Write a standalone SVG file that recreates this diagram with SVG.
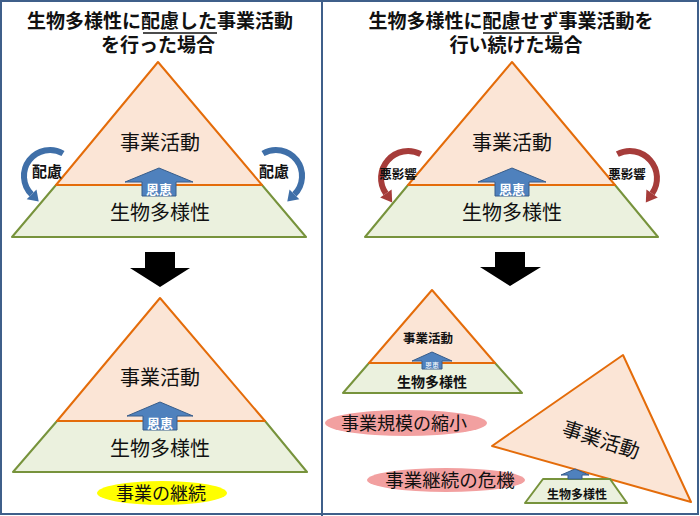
<svg xmlns="http://www.w3.org/2000/svg" width="700" height="516" viewBox="0 0 700 516">
<defs>
<style>
.t{font-family:"Noto Sans CJK JP","Noto Sans CJK SC",sans-serif;text-anchor:middle}
.title{font-size:19px;font-weight:bold;fill:#111}
.big{font-size:20px;fill:#111}
.up{fill:#fbe5d6;stroke:#e46c0a;stroke-width:2;stroke-linejoin:round}
.low{fill:#ebf1de;stroke:#77933c;stroke-width:2;stroke-linejoin:round}
.ben{fill:#4f81bd;stroke:#385d8a;stroke-width:1}
.bent{font-size:13px;font-weight:bold;fill:#fff}
.barc{fill:none;stroke:#3f6fa8;stroke-width:6}
.bhead{fill:#3f6fa8}
.rarc{fill:none;stroke:#a63c3a;stroke-width:6}
.rhead{fill:#a63c3a}
.lab{font-size:15px;font-weight:bold;fill:#111}
.labs{font-size:12.5px;font-weight:bold;fill:#111}
.pink{fill:#f2a0a0}
</style>
</defs>
<rect x="0" y="0" width="700" height="516" fill="#fff"/>
<rect x="1" y="1" width="697" height="513" fill="none" stroke="#3f5f8a" stroke-width="2"/>
<line x1="322" y1="0" x2="322" y2="516" stroke="#3f5f8a" stroke-width="2"/>

<g id="title-left">
<text class="t title" x="160" y="28">生物多様性に配慮した事業活動</text>
<text class="t title" x="158" y="52">を行った場合</text>
<line x1="143" y1="33" x2="217" y2="33" stroke="#111" stroke-width="1.5"/>
</g>
<g id="title-right">
<text class="t title" x="511" y="28">生物多様性に配慮せず事業活動を</text>
<text class="t title" x="516" y="52">行い続けた場合</text>
<line x1="483" y1="33" x2="559" y2="33" stroke="#111" stroke-width="1.5"/>
</g>

<!-- top-left pyramid -->
<g id="pyramid-tl">
<polygon class="low" points="56,185 262,185 306,237 12,237"/>
<polygon class="up" points="158,62 262,185 56,185"/>
<text class="t big" x="160" y="150">事業活動</text>
<text class="t big" x="160" y="220">生物多様性</text>
<polygon class="ben" points="159,168 193,182 176,182 176,196 142,196 142,182 125,182"/>
<text class="t bent" x="159" y="194">恩恵</text>
</g>
<g id="care-left">
<path class="barc" d="M63,153.5 A26 26 0 0 0 31.6,194.4"/>
<polygon class="bhead" points="38.7,201.5 36.5,189.5 26.7,199.3"/>
<text class="t lab" x="47" y="177">配慮</text>
</g>
<g id="care-right">
<path class="barc" d="M263,153.5 A26 26 0 0 1 294.4,194.4"/>
<polygon class="bhead" points="287.3,201.5 299.3,199.3 289.5,189.5"/>
<text class="t lab" x="274" y="177">配慮</text>
</g>

<g id="connectors">
<polygon points="145,252 175,252 175,268 190,268 160,287 130,268 145,268" fill="#000"/>
<polygon points="495,252 525,252 525,267 541,267 510,286 480,267 495,267" fill="#000"/>
</g>

<!-- bottom-left pyramid -->
<g id="pyramid-bl">
<polygon class="low" points="57,421 265,421 307,472 13,472"/>
<polygon class="up" points="160,298 265,421 57,421"/>
<text class="t big" x="160" y="385">事業活動</text>
<text class="t big" x="160" y="456">生物多様性</text>
<polygon class="ben" points="160,402 193,416 177,416 177,430 143,430 143,416 127,416"/>
<text class="t bent" x="160" y="428">恩恵</text>
</g>
<g id="continue">
<ellipse cx="162" cy="493" rx="65" ry="12" fill="#ffff00"/>
<text class="t" x="161" y="499.5" font-size="18" fill="#111">事業の継続</text>
</g>

<!-- top-right pyramid -->
<g id="pyramid-tr">
<polygon class="low" points="408,185 615,185 658,237 365,237"/>
<polygon class="up" points="512,62 615,185 408,185"/>
<text class="t big" x="512" y="150">事業活動</text>
<text class="t big" x="512" y="220">生物多様性</text>
<polygon class="ben" points="512,168 546,182 529,182 529,196 495,196 495,182 478,182"/>
<text class="t bent" x="512" y="194">恩恵</text>
</g>
<g id="harm-left">
<path class="rarc" d="M420.7,154.2 A27 27 0 0 0 385.9,193.5"/>
<polygon class="rhead" points="392.2,202.5 391.6,189.5 380.2,197.5"/>
<text class="t labs" x="398" y="179">悪影響</text>
</g>
<g id="harm-right">
<path class="rarc" d="M617.3,154.2 A27 27 0 0 1 652.1,193.5"/>
<polygon class="rhead" points="645.8,202.5 657.8,197.5 646.4,189.5"/>
<text class="t labs" x="627" y="179">悪影響</text>
</g>

<!-- small pyramid -->
<g id="pyramid-small">
<polygon class="low" points="369,363 495,363 522,393 343,393"/>
<polygon class="up" points="432,290 495,363 369,363"/>
<text class="t" x="428" y="343" font-size="12.5" font-weight="bold" fill="#111">事業活動</text>
<text class="t" x="432" y="387" font-size="14" font-weight="bold" fill="#111">生物多様性</text>
<polygon class="ben" points="432,352 452,361 442,361 442,369 422,369 422,361 412,361"/>
<text class="t" x="432" y="367.5" font-size="7" fill="#fff">恩恵</text>
</g>
<g id="shrink">
<ellipse class="pink" cx="406" cy="423" rx="81" ry="13"/>
<text class="t" x="404" y="429.5" font-size="18" fill="#111">事業規模の縮小</text>
</g>
<g id="crisis">
<ellipse class="pink" cx="446" cy="480" rx="79" ry="12"/>
<text class="t" x="450" y="486.5" font-size="18.5" fill="#111">事業継続の危機</text>
</g>

<!-- tilted -->
<g id="tilted-activity">
<polygon class="up" points="623,355 691,502 492,446"/>
<text class="t big" x="601" y="447" transform="rotate(18 601 440)">事業活動</text>
</g>
<g id="small-biodiversity">
<polygon class="low" points="543,479 610,479 627,503 525,503" stroke-width="1.5"/>
<text class="t" x="577" y="498.5" font-size="12" font-weight="bold" fill="#111">生物多様性</text>
<polygon class="ben" points="575,469 589,475 582,475 582,479 568,479 568,475 561,475"/>
</g>
</svg>
